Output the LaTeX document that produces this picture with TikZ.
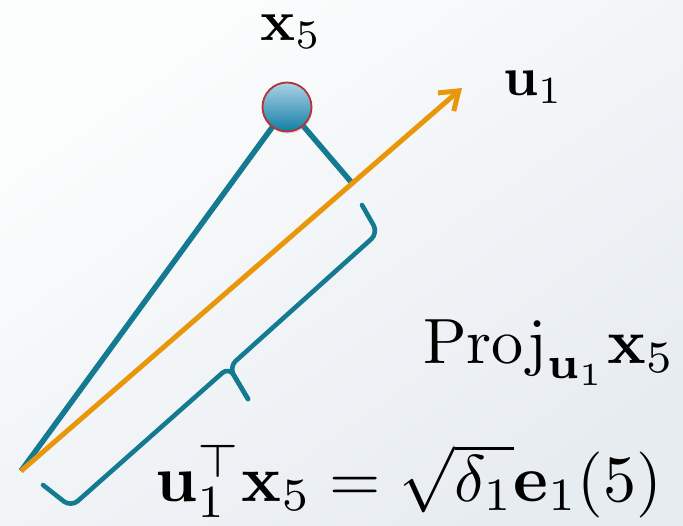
\documentclass[tikz,border=0pt]{standalone}
\usepackage{amsmath}
\usepackage{graphicx}
\usetikzlibrary{arrows.meta,shadows}
\definecolor{tealline}{RGB}{20,122,146}
\definecolor{orangeline}{RGB}{232,150,10}
\definecolor{bgA}{RGB}{252,253,253}
\definecolor{bgB}{RGB}{231,236,241}
\definecolor{ballTop}{RGB}{172,210,230}
\definecolor{ballBot}{RGB}{18,126,165}
\definecolor{ballRim}{RGB}{178,52,52}
\begin{document}
\begin{tikzpicture}[x=1pt,y=-1pt,
  blueline/.style={draw=tealline,line width=5.5pt},
  bracestyle/.style={draw=tealline,line width=4.6pt,line cap=round,line join=round},
  vecline/.style={draw=orangeline,line width=5pt,-{Straight Barb[length=17pt,width=24pt]}},
  ball/.style={circle,minimum size=49pt,inner sep=0pt,draw=ballRim,line width=1.8pt,
    top color=ballTop,bottom color=ballBot,
    drop shadow={opacity=0.25,shadow xshift=1pt,shadow yshift=-2pt}},
  lab/.style={inner sep=0pt,text=black}]
\useasboundingbox (0,0) rectangle (683,525);
\shade[top color=bgA,bottom color=bgB,shading angle=35] (0,0) rectangle (683,525);
% points
\coordinate (O) at (21,471);
\coordinate (P) at (352,183);
\coordinate (U) at (462,88);
\coordinate (Xc) at (287,107);
% brace points
\coordinate (A) at (43,485);
\coordinate (B) at (71,507);
\coordinate (C) at (229,367);
\coordinate (D) at (248,399);
\coordinate (F) at (378,233);
\coordinate (G) at (362,205);
% blue lines
\draw[blueline] (O) -- (Xc);
\draw[blueline] (Xc) -- (P);
% orange vector
\draw[vecline] (O) -- (U);
\node[ball] (X) at (Xc) {};
% brace
\draw[bracestyle,rounded corners=9pt] (A) -- (B) -- (C) -- (D);
\draw[bracestyle,rounded corners=9pt] (G) -- (F) -- (C) -- (D);
% labels
\node[lab,anchor=base] (lx) at (291,40) {\scalebox{5.8}{$\mathbf{x}_5$}};
\node[lab,anchor=base west] (lu) at (503,95) {\scalebox{5.5}{$\mathbf{u}_1$}};
\node[lab,anchor=base west] (lp) at (423,363) {\scalebox{6.4}{$\mathrm{Proj}_{\mathbf{u}_1}\mathbf{x}_5$}};
\node[lab,anchor=base west] (lf) at (155,501) {\scalebox{6.6}{$\mathbf{u}_1^{\top}\mathbf{x}_5=\sqrt{\delta_1}\mathbf{e}_1(5)$}};
\end{tikzpicture}
\end{document}
